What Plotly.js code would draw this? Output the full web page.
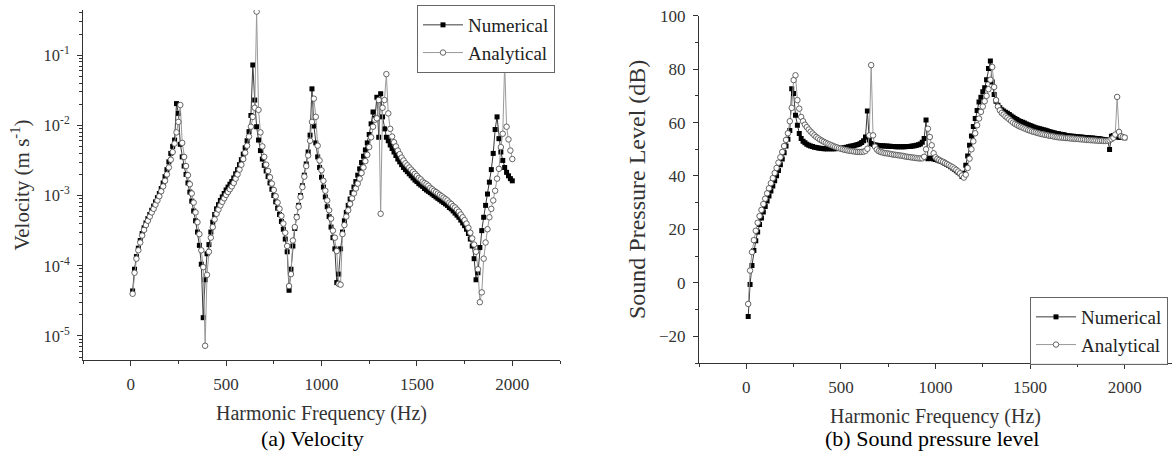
<!DOCTYPE html>
<html>
<head>
<meta charset="utf-8">
<script src="https://cdn.plot.ly/plotly-3.0.1.min.js"></script>
<style>
html,body{margin:0;padding:0;background:#fff;}
#chart{width:1172px;height:454px;}
</style>
</head>
<body>
<div id="chart"></div>
<script>
// Harmonic frequency (Hz) shared by all four series
const freq = [
  10,20,30,40,50,60,70,80,90,100,
  110,120,130,140,150,160,170,180,190,200,
  210,220,230,240,250,260,270,280,290,300,
  310,320,330,340,350,360,370,380,390,400,
  410,420,430,440,450,460,470,480,490,500,
  510,520,530,540,550,560,570,580,590,600,
  610,620,630,640,650,660,670,680,690,700,
  710,720,730,740,750,760,770,780,790,800,
  810,820,830,840,850,860,870,880,890,900,
  910,920,930,940,950,960,970,980,990,1000,
  1010,1020,1030,1040,1050,1060,1070,1080,1090,1100,
  1110,1120,1130,1140,1150,1160,1170,1180,1190,1200,
  1210,1220,1230,1240,1250,1260,1270,1280,1290,1300,
  1310,1320,1330,1340,1350,1360,1370,1380,1390,1400,
  1410,1420,1430,1440,1450,1460,1470,1480,1490,1500,
  1510,1520,1530,1540,1550,1560,1570,1580,1590,1600,
  1610,1620,1630,1640,1650,1660,1670,1680,1690,1700,
  1710,1720,1730,1740,1750,1760,1770,1780,1790,1800,
  1810,1820,1830,1840,1850,1860,1870,1880,1890,1900,
  1910,1920,1930,1940,1950,1960,1970,1980,1990,2000
];

// (a) Velocity (m/s)
const velocityNumerical = [
  4.37e-5,8.91e-5,1.35e-4,1.78e-4,2.29e-4,2.88e-4,3.47e-4,4.07e-4,4.68e-4,5.37e-4,
  6.17e-4,7.08e-4,8.13e-4,9.33e-4,1.07e-3,1.26e-3,1.51e-3,1.86e-3,2.34e-3,3.02e-3,
  3.98e-3,5.01e-3,6.17e-3,2.04e-2,1.48e-2,5.37e-3,3.55e-3,2.63e-3,2.00e-3,1.51e-3,
  1.12e-3,8.32e-4,6.03e-4,4.37e-4,3.02e-4,1.95e-4,1.05e-4,1.82e-5,6.31e-5,1.48e-4,
  2.00e-4,3.02e-4,4.17e-4,5.37e-4,6.46e-4,7.41e-4,8.51e-4,9.55e-4,1.07e-3,1.20e-3,
  1.32e-3,1.45e-3,1.58e-3,1.78e-3,2.04e-3,2.34e-3,2.75e-3,3.24e-3,3.89e-3,4.79e-3,
  6.03e-3,8.13e-3,1.38e-2,7.24e-2,2.29e-2,9.55e-3,6.17e-3,4.37e-3,3.31e-3,2.69e-3,
  2.24e-3,1.86e-3,1.51e-3,1.23e-3,1.00e-3,8.13e-4,6.61e-4,5.37e-4,4.27e-4,3.31e-4,
  2.40e-4,1.58e-4,4.47e-5,8.91e-5,1.91e-4,3.39e-4,5.01e-4,7.24e-4,1.00e-3,1.38e-3,
  1.95e-3,2.82e-3,4.17e-3,7.24e-3,3.31e-2,9.77e-3,5.62e-3,3.55e-3,2.51e-3,1.82e-3,
  1.32e-3,9.55e-4,6.92e-4,5.01e-4,3.55e-4,2.51e-4,1.74e-4,5.75e-5,7.59e-5,1.74e-4,
  3.02e-4,4.37e-4,5.75e-4,7.24e-4,8.91e-4,1.10e-3,1.32e-3,1.58e-3,1.95e-3,2.40e-3,
  2.95e-3,3.63e-3,4.47e-3,5.62e-3,7.41e-3,1.05e-2,1.55e-2,1.26e-2,2.51e-2,6.76e-3,
  2.82e-2,1.32e-2,8.91e-3,6.76e-3,6.03e-3,5.25e-3,4.68e-3,4.17e-3,3.72e-3,3.31e-3,
  3.02e-3,2.75e-3,2.51e-3,2.34e-3,2.19e-3,2.04e-3,1.91e-3,1.78e-3,1.66e-3,1.58e-3,
  1.48e-3,1.41e-3,1.35e-3,1.26e-3,1.20e-3,1.15e-3,1.10e-3,1.05e-3,1.00e-3,9.55e-4,
  9.12e-4,8.71e-4,8.32e-4,7.94e-4,7.59e-4,7.24e-4,6.76e-4,6.46e-4,6.03e-4,5.62e-4,
  5.25e-4,4.90e-4,4.47e-4,4.07e-4,3.72e-4,3.31e-4,2.88e-4,2.40e-4,1.91e-4,1.26e-4,
  6.31e-5,7.94e-5,1.82e-4,3.16e-4,4.90e-4,7.24e-4,1.05e-3,1.55e-3,2.34e-3,3.98e-3,
  8.71e-3,1.32e-2,6.46e-3,4.17e-3,3.16e-3,2.51e-3,2.14e-3,1.91e-3,1.74e-3,1.62e-3
];
const velocityAnalytical = [
  3.98e-5,7.94e-5,1.26e-4,1.66e-4,2.14e-4,2.69e-4,3.24e-4,3.80e-4,4.37e-4,5.01e-4,
  5.75e-4,6.46e-4,7.41e-4,8.51e-4,9.77e-4,1.15e-3,1.35e-3,1.62e-3,2.00e-3,2.51e-3,
  3.24e-3,4.17e-3,5.50e-3,7.94e-3,1.12e-2,1.95e-2,5.62e-3,3.55e-3,2.63e-3,1.95e-3,
  1.45e-3,1.07e-3,7.94e-4,5.75e-4,4.17e-4,2.82e-4,1.66e-4,9.55e-5,7.24e-6,7.41e-5,
  1.58e-4,2.51e-4,3.55e-4,4.57e-4,5.50e-4,6.31e-4,7.24e-4,8.13e-4,9.12e-4,1.02e-3,
  1.12e-3,1.23e-3,1.35e-3,1.51e-3,1.74e-3,2.00e-3,2.34e-3,2.75e-3,3.31e-3,4.07e-3,
  5.13e-3,6.92e-3,9.55e-3,1.32e-2,1.78e-2,4.17e-1,1.66e-2,7.94e-3,5.01e-3,3.55e-3,
  2.75e-3,2.24e-3,1.82e-3,1.48e-3,1.20e-3,9.77e-4,7.94e-4,6.46e-4,5.13e-4,3.98e-4,
  2.95e-4,1.91e-4,5.13e-5,7.59e-5,2.29e-4,3.55e-4,4.90e-4,6.92e-4,9.55e-4,1.32e-3,
  1.86e-3,2.63e-3,3.72e-3,6.03e-3,1.12e-2,2.40e-2,1.32e-2,5.13e-3,3.16e-3,2.29e-3,
  1.62e-3,1.17e-3,8.51e-4,6.17e-4,4.68e-4,3.16e-4,2.51e-4,1.62e-4,5.50e-5,5.37e-5,
  2.82e-4,3.80e-4,5.01e-4,6.17e-4,7.59e-4,9.12e-4,1.07e-3,1.26e-3,1.48e-3,1.74e-3,
  2.09e-3,2.51e-3,3.09e-3,3.80e-3,4.90e-3,6.76e-3,9.55e-3,1.20e-2,1.26e-2,2.29e-2,
  5.50e-4,1.78e-2,2.29e-2,5.37e-2,1.48e-2,8.91e-3,6.92e-3,5.75e-3,5.01e-3,4.37e-3,
  3.89e-3,3.47e-3,3.16e-3,2.88e-3,2.69e-3,2.51e-3,2.34e-3,2.19e-3,2.04e-3,1.91e-3,
  1.78e-3,1.70e-3,1.58e-3,1.51e-3,1.45e-3,1.38e-3,1.29e-3,1.23e-3,1.17e-3,1.12e-3,
  1.07e-3,1.02e-3,9.77e-4,9.33e-4,8.91e-4,8.51e-4,7.94e-4,7.59e-4,7.08e-4,6.76e-4,
  6.31e-4,5.89e-4,5.37e-4,4.90e-4,4.47e-4,3.98e-4,3.47e-4,2.95e-4,2.45e-4,2.00e-4,
  1.58e-4,8.91e-5,3.02e-5,4.17e-5,1.26e-4,2.14e-4,3.31e-4,4.90e-4,6.46e-4,8.51e-4,
  1.17e-3,1.74e-3,2.40e-3,4.90e-3,7.59e-3,7.59e-2,9.55e-3,6.31e-3,4.37e-3,3.31e-3
];

// (b) Sound pressure level (dB)
const splNumerical = [
  -12.6,-0.6,6.5,12.1,15.8,19.0,21.8,24.3,26.5,28.6,
  30.6,32.5,34.4,36.3,38.2,40.1,42.1,44.2,46.4,48.7,
  51.2,53.8,57.0,72.7,70.9,62.7,59.0,55.9,54.0,53.0,
  52.4,51.9,51.5,51.2,51.0,50.8,50.7,50.5,50.4,50.3,
  50.2,50.2,50.2,50.2,50.2,50.2,50.2,50.3,50.3,50.4,
  50.5,50.6,50.8,50.9,51.1,51.2,51.4,51.6,51.8,52.1,
  52.5,53.2,54.6,64.3,53.5,52.2,51.8,51.6,51.5,51.4,
  51.3,51.3,51.2,51.2,51.1,51.1,51.0,51.0,50.9,50.9,
  50.9,50.9,50.9,50.9,51.0,51.0,51.1,51.2,51.3,51.5,
  51.7,52.0,52.6,54.0,61.0,46.5,46.6,46.6,46.4,46.2,
  46.0,45.7,45.4,45.1,44.7,44.3,43.9,43.5,43.0,42.5,
  42.0,41.4,40.8,39.8,41.0,44.0,47.5,51.5,55.0,58.5,
  61.5,64.5,67.7,69.5,71.5,73.0,76.0,80.2,83.0,75.2,
  70.5,68.0,66.5,65.5,64.8,64.3,63.9,63.5,63.0,62.5,
  62.0,61.5,61.1,60.7,60.4,60.1,59.8,59.5,59.2,58.9,
  58.6,58.3,58.1,57.9,57.7,57.5,57.3,57.1,56.9,56.7,
  56.5,56.3,56.1,55.9,55.8,55.6,55.5,55.4,55.2,55.1,
  55.0,54.9,54.9,54.8,54.7,54.6,54.6,54.5,54.4,54.4,
  54.3,54.2,54.2,54.1,54.0,54.0,53.9,53.8,53.7,53.6,
  53.5,49.9,54.9,55.2,54.8,54.6,54.5,54.4,54.4,54.3
];
const splAnalytical = [
  -7.9,4.6,11.5,16.0,19.5,22.5,25.0,27.3,29.5,31.5,
  33.5,35.4,37.3,39.2,41.1,43.0,45.0,47.0,49.0,51.2,
  53.5,56.0,60.5,65.5,75.9,77.7,68.4,65.2,62.1,60.5,
  59.2,58.3,57.4,56.6,55.9,55.2,54.6,54.1,53.6,53.2,
  52.8,52.4,52.1,51.8,51.5,51.2,50.9,50.7,50.4,50.2,
  50.0,49.8,49.7,49.5,49.4,49.3,49.2,49.1,49.0,49.0,
  49.0,49.1,49.4,50.2,55.2,81.5,55.2,51.0,49.9,49.3,
  49.0,48.8,48.6,48.5,48.4,48.3,48.1,48.0,47.9,47.8,
  47.7,47.6,47.5,47.3,47.2,47.1,47.0,46.9,46.8,46.7,
  46.6,46.6,46.6,47.2,50.0,57.7,54.6,51.5,48.5,47.0,
  46.4,46.0,45.6,45.3,44.9,44.5,44.1,43.7,43.3,42.8,
  42.3,41.7,41.0,40.2,39.4,40.5,43.0,46.5,50.0,53.0,
  56.0,59.0,61.5,64.0,66.0,68.0,70.0,72.5,76.0,80.8,
  73.3,68.4,66.0,64.6,63.6,63.0,62.3,61.8,61.2,60.6,
  60.0,59.5,59.1,58.7,58.4,58.1,57.8,57.5,57.2,57.0,
  56.7,56.5,56.3,56.1,55.9,55.7,55.6,55.4,55.3,55.1,
  55.0,54.9,54.7,54.6,54.5,54.4,54.4,54.3,54.2,54.2,
  54.1,54.0,54.0,53.9,53.9,53.8,53.7,53.7,53.6,53.5,
  53.5,53.4,53.4,53.3,53.3,53.2,53.2,53.2,53.1,53.1,
  53.2,53.4,53.8,54.3,55.5,69.6,56.5,54.9,54.6,54.4
];

const seriesNames = ['Numerical', 'Analytical'];
const velTickVals = [1e-5, 1e-4, 1e-3, 1e-2, 1e-1];
const velTickText = ['10<sup>-5</sup>', '10<sup>-4</sup>', '10<sup>-3</sup>', '10<sup>-2</sup>', '10<sup>-1</sup>'];
const xTitleText = 'Harmonic Frequency (Hz)';
const velTitleText = 'Velocity (m s<sup>-1</sup>)';
const splTitleText = 'Sound Pressure Level (dB)';
const captionA = '(a) Velocity';
const captionB = '(b) Sound pressure level';

// minor tick positions for the log axis (2..9 in each decade)
const velMinor = [];
for (let e = -6; e <= -1; e++) {
  for (let m = 2; m <= 9; m++) {
    const v = m * Math.pow(10, e);
    if (v > 4.6e-6 && v < 0.43) velMinor.push(v);
  }
}

const FONT = 'Liberation Serif, Times New Roman, serif';
const AX = '#333';

const numStyle = {
  mode: 'lines+markers',
  line: {color: '#3a3a3a', width: 1},
  marker: {symbol: 'square', size: 5, color: '#000', line: {width: 0}}
};
const anaStyle = {
  mode: 'lines+markers',
  line: {color: '#9a9a9a', width: 1},
  marker: {symbol: 'circle', size: 5.5, color: '#fff', line: {color: '#555', width: 0.9}}
};

const traces = [
  Object.assign({x: freq, y: velocityNumerical, name: seriesNames[0], xaxis: 'x', yaxis: 'y', legend: 'legend'}, numStyle),
  Object.assign({x: freq, y: velocityAnalytical, name: seriesNames[1], xaxis: 'x', yaxis: 'y', legend: 'legend'}, anaStyle),
  Object.assign({x: freq, y: splNumerical, name: seriesNames[0], xaxis: 'x2', yaxis: 'y2', legend: 'legend2'}, numStyle),
  Object.assign({x: freq, y: splAnalytical, name: seriesNames[1], xaxis: 'x2', yaxis: 'y2', legend: 'legend2'}, anaStyle)
];

function xAxis(domain, anchor) {
  return {
    domain: domain, anchor: anchor, range: [-250, 2250],
    tickmode: 'linear', tick0: 0, dtick: 500,
    ticks: 'outside', ticklen: 5, tickwidth: 1, tickcolor: AX,
    showline: true, linecolor: AX, linewidth: 1,
    showgrid: false, zeroline: false,
    ticklabelstandoff: 4,
    tickfont: {family: FONT, size: 17, color: '#333'},
    minor: {tickmode: 'linear', tick0: 0, dtick: 250, ticks: 'outside', ticklen: 3, tickcolor: AX, showgrid: false},
    title: {text: xTitleText, font: {family: FONT, size: 20, color: '#333'}, standoff: 12}
  };
}

function legendBox(x, y, bg) {
  return {
    x: x, y: y, xanchor: 'left', yanchor: 'top',
    bgcolor: bg, bordercolor: '#666', borderwidth: 1,
    font: {family: FONT, size: 19, color: '#222'},
    tracegroupgap: 0, itemwidth: 40
  };
}

const layout = {
  width: 1172, height: 454,
  margin: {l: 0, r: 0, t: 0, b: 0},
  paper_bgcolor: '#fff', plot_bgcolor: '#fff',
  font: {family: FONT, color: '#333'},
  xaxis: xAxis([83/1172, 560/1172], 'y'),
  xaxis2: xAxis([699/1172, 1], 'y2'),
  yaxis: {
    domain: [94/454, 444/454], anchor: 'x', type: 'log', range: [-5.343, -0.357],
    tickmode: 'array', tickvals: velTickVals, ticktext: velTickText,
    ticks: 'outside', ticklen: 5, tickwidth: 1, tickcolor: AX,
    showline: true, linecolor: AX, linewidth: 1,
    showgrid: false, zeroline: false,
    ticklabelstandoff: 4,
    tickfont: {family: FONT, size: 16.5, color: '#333'},
    minor: {tickmode: 'array', tickvals: velMinor, ticks: 'outside', ticklen: 3, tickcolor: AX, showgrid: false},
    title: {text: velTitleText, font: {family: FONT, size: 21, color: '#333'}, standoff: 8}
  },
  yaxis2: {
    domain: [91/454, 438.3/454], anchor: 'x2', range: [-30, 100],
    tickmode: 'linear', tick0: 0, dtick: 20,
    ticks: 'outside', ticklen: 5, tickwidth: 1, tickcolor: AX,
    showline: true, linecolor: AX, linewidth: 1,
    showgrid: false, zeroline: false,
    ticklabelstandoff: 4,
    tickfont: {family: FONT, size: 17, color: '#333'},
    minor: {tickmode: 'linear', tick0: 0, dtick: 10, ticks: 'outside', ticklen: 3, tickcolor: AX, showgrid: false},
    title: {text: splTitleText, font: {family: FONT, size: 24, color: '#333'}, standoff: 6}
  },
  showlegend: true,
  legend: legendBox(417/1172, 1 - 5/454, '#fff'),
  legend2: legendBox(1030/1172, 1 - 297/454, 'rgba(255,255,255,0.9)'),
  annotations: [
    {text: captionA, xref: 'paper', yref: 'paper', x: 312.5/1172, y: 1 - 438/454,
     xanchor: 'center', yanchor: 'middle', showarrow: false,
     font: {family: FONT, size: 22, color: '#000'}},
    {text: captionB, xref: 'paper', yref: 'paper', x: 932/1172, y: 1 - 438/454,
     xanchor: 'center', yanchor: 'middle', showarrow: false,
     font: {family: FONT, size: 22, color: '#000'}}
  ]
};

Plotly.newPlot('chart', traces, layout, {staticPlot: true, displayModeBar: false});
</script>
</body>
</html>
